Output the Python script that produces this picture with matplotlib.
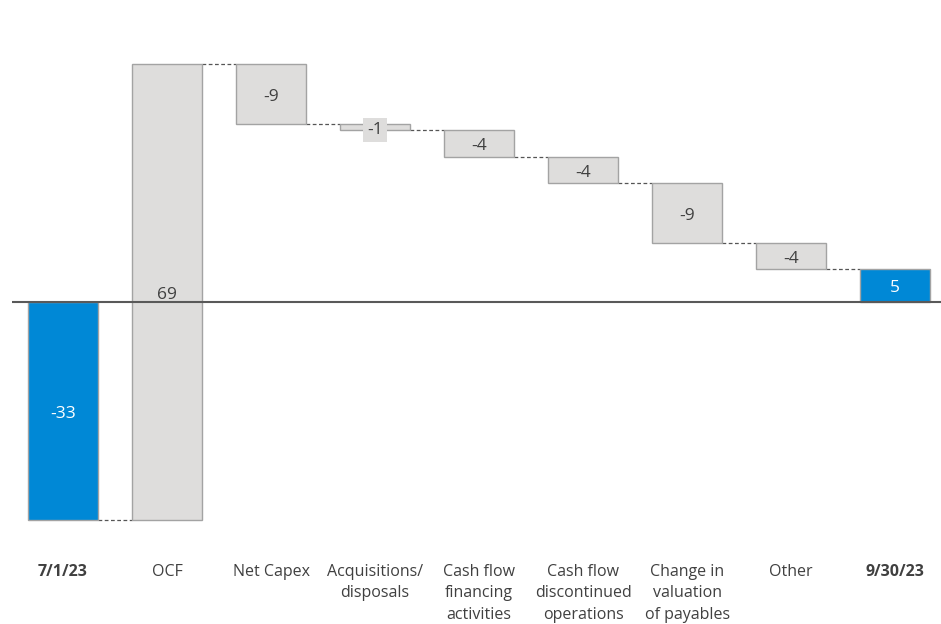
import numpy as np
import matplotlib.pyplot as plt

plt.rcParams['font.family'] = ['Open Sans', 'DejaVu Sans']

# waterfall data
categories = ["7/1/23", "OCF", "Net Capex", "Acquisitions/\ndisposals",
              "Cash flow\nfinancing\nactivities", "Cash flow\ndiscontinued\noperations",
              "Change in\nvaluation\nof payables", "Other", "9/30/23"]
changes = [-33, 69, -9, -1, -4, -4, -9, -4]
end_value = 5
is_total = [True, False, False, False, False, False, False, False, True]

blue = "#0088D6"
grey = "#DEDDDC"
edge = "#A3A3A3"
txt = "#404040"

# running totals
bottoms, tops = [0], [changes[0]]
level = changes[0]
for c in changes[1:]:
    bottoms.append(level)
    tops.append(level + c)
    level += c
bottoms.append(0)
tops.append(end_value)

fig = plt.figure(figsize=(9.41, 6.24), dpi=100)
ax = fig.add_axes([12 / 941, 1 - 540 / 624, 929 / 941, 520 / 624])

x = np.arange(len(categories))
w = 0.67
labels = changes + [end_value]
for i in x:
    lo, hi = min(bottoms[i], tops[i]), max(bottoms[i], tops[i])
    col = blue if is_total[i] else grey
    ax.bar(i, hi - lo, bottom=lo, width=w, color=col, edgecolor=edge,
           linewidth=1.0, zorder=2)
    yc = (lo + hi) / 2
    tcol = "white" if is_total[i] else txt
    box = None
    if hi - lo < 2:
        box = dict(facecolor=grey, edgecolor="none", pad=3)
    ax.annotate(str(labels[i]), (i, yc), xytext=(0, -2), textcoords="offset points",
                ha="center", va="center", fontsize=12.5, color=tcol, zorder=4,
                bbox=box)

# connectors between bars
for i in range(len(categories) - 1):
    ax.plot([i + w / 2, i + 1 - w / 2], [tops[i], tops[i]], ls=(0, (3, 2)),
            color="#555555", lw=0.9, zorder=1)

ax.axhline(0, color="#595959", lw=1.5, zorder=3)

for i, lab in enumerate(categories):
    ax.text(i, -0.046, lab, transform=ax.get_xaxis_transform(), ha="center",
            va="top", fontsize=11.5, color=txt, linespacing=1.45,
            fontweight="bold" if is_total[i] else "normal")

ax.set_xlim(-0.49, 8.44)
ax.set_ylim(-(540 - 302) / 6.6, (302 - 20) / 6.6)
ax.axis("off")

plt.savefig("out.png", dpi=100)
